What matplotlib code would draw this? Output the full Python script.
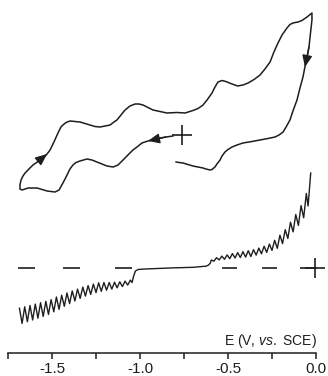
import numpy as np
import matplotlib
matplotlib.use("Agg")
import matplotlib.pyplot as plt
from matplotlib.ticker import FixedLocator

plt.rcParams['font.family'] = ['Liberation Sans', 'DejaVu Sans']
plt.rcParams['axes.unicode_minus'] = False
plt.rcParams['mathtext.fontset'] = 'custom'
plt.rcParams['mathtext.rm'] = 'Liberation Sans'
plt.rcParams['mathtext.it'] = 'Liberation Sans:italic'

# ---------------- data ----------------
# Cyclic voltammogram (potential in V vs SCE, current in arbitrary units; 0 at the start cross)
cv_E = [-0.8125, -0.852, -0.886, -0.920, -0.955, -0.989, -1.017, -1.040, -1.063, -1.085,
        -1.108, -1.125, -1.153, -1.188, -1.216, -1.244, -1.273, -1.301, -1.341, -1.364,
        -1.381, -1.398, -1.409, -1.423, -1.438, -1.460, -1.483, -1.506, -1.528, -1.557,
        -1.585, -1.614, -1.636, -1.653, -1.670, -1.682, -1.682, -1.676, -1.665, -1.653,
        -1.631, -1.608, -1.580, -1.551, -1.528, -1.511, -1.489, -1.466, -1.449, -1.438,
        -1.420, -1.398, -1.369, -1.341, -1.312, -1.284, -1.256, -1.227, -1.199, -1.170,
        -1.148, -1.131, -1.108, -1.085, -1.057, -1.028, -1.006, -0.983, -0.955, -0.926,
        -0.886, -0.847, -0.790, -0.744, -0.699, -0.670, -0.642, -0.619, -0.591, -0.574,
        -0.557, -0.534, -0.5125, -0.477, -0.4455, -0.415, -0.386, -0.352, -0.318, -0.290,
        -0.261, -0.239, -0.216, -0.193, -0.165, -0.148, -0.131, -0.102, -0.080, -0.051,
        -0.023, -0.023, -0.028, -0.034, -0.040, -0.051, -0.063, -0.074, -0.091, -0.108,
        -0.131, -0.148, -0.170, -0.187, -0.210, -0.233, -0.273, -0.318, -0.364, -0.415,
        -0.449, -0.477, -0.500, -0.517, -0.534, -0.545, -0.563, -0.574, -0.591, -0.602,
        -0.625, -0.642, -0.670, -0.699, -0.727, -0.756, -0.778, -0.795]
cv_I = [-0.1, -0.2, -0.3, -0.45, -0.6, -0.8, -1.2, -1.5, -1.9, -2.3,
        -2.7, -3.0, -3.2, -3.1, -2.9, -2.7, -2.5, -2.4, -2.6, -2.75,
        -3.0, -3.4, -3.8, -4.3, -4.8, -5.5, -5.7, -5.65, -5.6, -5.45,
        -5.3, -5.3, -5.3, -5.4, -5.5, -5.4, -5.0, -4.5, -4.1, -3.8,
        -3.4, -3.0, -2.65, -2.3, -1.9, -1.5, -0.7, 0.2, 0.8, 1.0,
        1.25, 1.4, 1.35, 1.3, 1.15, 1.0, 0.85, 0.8, 0.9, 1.0,
        1.3, 1.5, 2.0, 2.5, 2.9, 3.1, 3.1, 3.0, 2.75, 2.5,
        2.35, 2.2, 2.25, 2.2, 2.45, 2.65, 3.0, 3.5, 4.2, 4.8,
        5.3, 5.45, 5.35, 5.1, 4.9, 5.0, 5.2, 5.55, 6.0, 6.6,
        7.3, 8.3, 9.2, 10.0, 10.7, 11.05, 11.2, 11.3, 11.45, 11.8,
        12.2, 11.5, 10.7, 9.8, 8.8, 7.7, 6.8, 5.8, 4.7, 3.5,
        2.4, 1.5, 0.8, 0.3, 0.0, -0.2, -0.35, -0.5, -0.65, -0.8,
        -1.0, -1.2, -1.45, -1.7, -2.1, -2.5, -2.9, -3.2, -3.45, -3.5,
        -3.4, -3.3, -3.2, -3.1, -2.95, -2.8, -2.75, -2.7]
cv_start_E = -0.761

# Lower (square-wave) trace, current relative to the dashed zero line
sw_E = [-1.685, -1.670, -1.655, -1.640, -1.625, -1.610, -1.595, -1.580, -1.565, -1.550,
        -1.535, -1.520, -1.505, -1.490, -1.475, -1.460, -1.445, -1.430, -1.415, -1.400,
        -1.385, -1.370, -1.355, -1.340, -1.325, -1.310, -1.295, -1.280, -1.265, -1.250,
        -1.235, -1.220, -1.205, -1.190, -1.175, -1.160, -1.145, -1.130, -1.115, -1.100,
        -1.085, -1.070, -1.055,
        -1.045, -1.036, -1.026, -1.011, -0.990, -0.972, -0.945, -0.915, -0.885, -0.858,
        -0.830, -0.801, -0.772, -0.744, -0.715, -0.688, -0.665, -0.648, -0.625, -0.610,
        -0.600,
        -0.595, -0.580, -0.565, -0.550, -0.535, -0.520, -0.505, -0.490, -0.475, -0.460,
        -0.445, -0.430, -0.415, -0.400, -0.385, -0.370, -0.355, -0.340, -0.325, -0.310,
        -0.295, -0.280, -0.265, -0.250, -0.235, -0.220, -0.205, -0.190, -0.175, -0.160,
        -0.145, -0.130, -0.115, -0.100, -0.085, -0.070, -0.055, -0.045, -0.030]
sw_I = [-4.02, -5.54, -3.88, -5.37, -3.75, -5.20, -3.61, -5.02, -3.47, -4.84,
        -3.33, -4.65, -3.16, -4.38, -2.90, -4.13, -2.72, -3.83, -2.50, -3.56,
        -2.29, -3.30, -2.11, -3.04, -1.91, -2.81, -1.76, -2.64, -1.61, -2.46,
        -1.48, -2.33, -1.45, -2.22, -1.45, -2.11, -1.42, -1.98, -1.38, -1.86,
        -1.31, -1.71, -1.21,
        -1.45, -0.80, -0.30, -0.15, -0.12, -0.10, -0.08, -0.06, -0.04, -0.02,
        0.00, 0.02, 0.03, 0.05, 0.06, 0.08, 0.12, 0.15, 0.18, 0.30,
        0.50,
        0.80, 0.68, 1.03, 0.81, 1.19, 0.87, 1.31, 0.93, 1.44, 1.00,
        1.54, 1.05, 1.63, 1.09, 1.72, 1.15, 1.83, 1.29, 1.99, 1.42,
        2.17, 1.56, 2.39, 1.76, 2.77, 1.97, 3.28, 2.44, 3.83, 2.95,
        4.58, 3.61, 5.35, 4.26, 6.24, 5.02, 7.46, 6.20, 9.50]
sw_end_E = -0.006

# dashed zero line segments (start, end potential)
dash_start = [-1.693, -1.4375, -1.142, -0.534, -0.307, -0.091]
dash_end = [-1.597, -1.341, -1.045, -0.449, -0.222, 0.006]

major_ticks = [-1.5, -1.0, -0.5, 0.0]
minor_ticks = [-1.75, -1.25, -0.75, -0.25]
tick_labels = ['-1.5', '-1.0', '-0.5', '0.0']

# ---------------- drawing ----------------
W, H = 328, 376
fig = plt.figure(figsize=(W / 100, H / 100), dpi=100)
ax = fig.add_axes([8 / W, 23 / H, 308 / W, 353 / H])
ax.set_xlim(-1.75, 0.0)
ax.set_ylim(0, 35.3)

cv_off = 21.8
sw_off = 8.5
col = '#1e1e1e'

cvE = np.array(cv_E)
cvI = np.array(cv_I) + cv_off
ax.plot(cvE, cvI, color=col, lw=1.1, solid_joinstyle='round', clip_on=False)
ax.plot([cv_start_E], [cv_off], marker='+', ms=14, mew=1.2, color=col, clip_on=False)

swE = np.array(sw_E)
swI = np.array(sw_I) + sw_off
ax.plot(swE, swI, color=col, lw=1.0, solid_joinstyle='round', clip_on=False)
for a, b in zip(dash_start, dash_end):
    ax.plot([a, b], [sw_off, sw_off], color=col, lw=1.2, solid_capstyle='butt', clip_on=False)
ax.plot([sw_end_E], [sw_off], marker='+', ms=15, mew=1.2, color=col, clip_on=False)

def arrow(i, j):
    ax.annotate('', xy=(cvE[j], cvI[j]), xytext=(cvE[i], cvI[i]),
                arrowprops=dict(arrowstyle='-|>,head_length=0.7,head_width=0.3',
                                color=col, lw=1.0, shrinkA=0, shrinkB=0,
                                mutation_scale=10))

arrow(1, 4)
arrow(42, 44)
arrow(104, 106)

for s in ['left', 'right', 'top']:
    ax.spines[s].set_visible(False)
ax.spines['bottom'].set_linewidth(1.1)
ax.spines['bottom'].set_color(col)
ax.set_yticks([])
ax.xaxis.set_major_locator(FixedLocator(major_ticks))
ax.xaxis.set_minor_locator(FixedLocator(minor_ticks))
ax.set_xticklabels(tick_labels)
ax.tick_params(axis='x', which='both', direction='out', length=4, width=1.1,
               color=col, pad=2.5, labelsize=11, labelcolor=col)
ax.patch.set_alpha(0)

fig.text(317 / W, 1 - 345 / H, r'E (V, $\mathit{vs.}$ SCE)', ha='right', va='baseline',
         fontsize=10, color=col)

fig.savefig('out.png', dpi=100)
